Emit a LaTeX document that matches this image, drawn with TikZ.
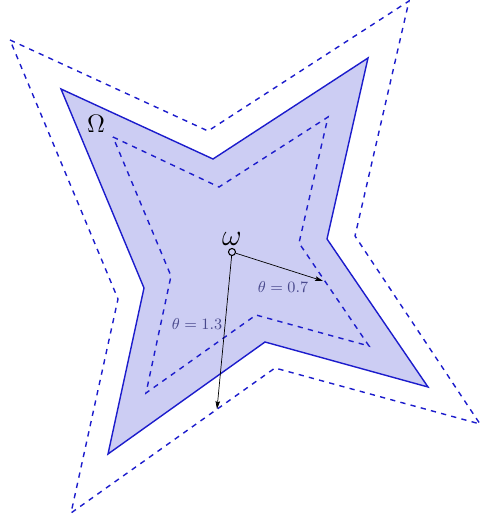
\documentclass[tikz,border=0pt]{standalone}
\usepackage{amsmath}
\usetikzlibrary{arrows.meta}

\definecolor{bndblue}{RGB}{28,28,204}
\definecolor{domfill}{RGB}{204,205,243}
\definecolor{lblblue}{RGB}{72,72,140}

\begin{document}
\begin{tikzpicture}[
    x=0.02cm, y=-0.02cm,
    >={Stealth[length=4.5pt, width=2.6pt, inset=0.8pt]},
    boundary/.style={draw=bndblue, thick, fill=domfill, line join=miter},
    levelset/.style={draw=bndblue, thick, dashed, line join=miter},
    ray/.style={->, black, thin},
    thetalabel/.style={font=\small, text=lblblue},
    center/.style={draw, circle, semithick, inner sep=0pt, minimum size=4pt},
]
\useasboundingbox (0,0) rectangle (481,519);

% --- Domain Omega ---
\path[boundary] (61,89) -- (213,159) -- (368,58) -- (327,239)
    -- (428,387) -- (265,342) -- (108,454) -- (144,288) -- cycle;

% --- Level sets ---
\draw[levelset] (10,40) -- (208,131) -- (409,1) -- (355,236)
    -- (480,424) -- (275,368) -- (71,513) -- (118,299) -- cycle;
\draw[levelset] (113,137) -- (219,187) -- (328,117) -- (299,243)
    -- (369,346) -- (256,315) -- (146,393) -- (171,276) -- cycle;

% --- Labels ---
\node[font=\Large] (Omega) at (96,124) {$\Omega$};
\node[font=\LARGE] (omega) at (232,239) {$\omega$};

% --- Center and rays ---
\node[center] (w) at (232,252) {};
\coordinate (t07) at (323,281);
\coordinate (t13) at (217,409);

\draw[ray] (w) -- (t07);
\draw[ray] (w) -- (t13);

\node[thetalabel] (l07) at (283,287) {$\theta = 0.7$};
\node[thetalabel] (l13) at (197,324) {$\theta = 1.3$};

\end{tikzpicture}
\end{document}
